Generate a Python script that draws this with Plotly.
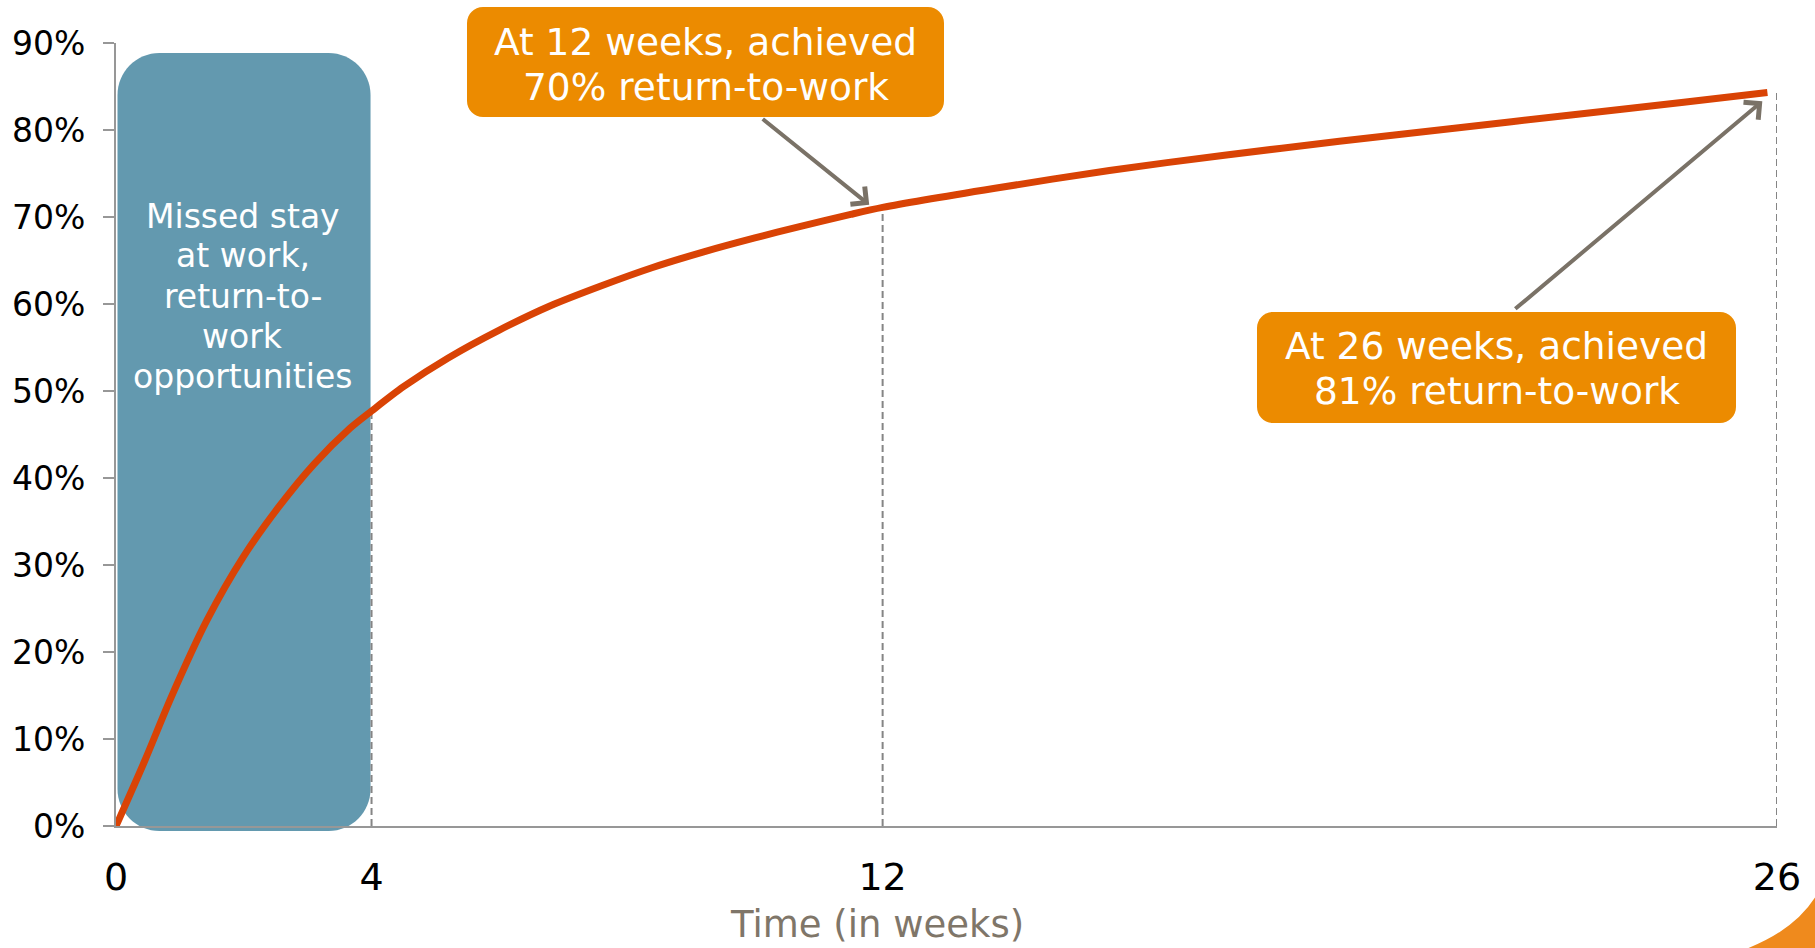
import numpy as np
import plotly.graph_objects as go

# Cumulative return-to-work rate by week since injury
weeks = [0, 0.45, 0.87, 1.42, 1.99, 2.55, 3.1, 3.66, 4.0, 4.5, 5.2, 6.0, 6.8,
         7.6, 8.4, 9.2, 10.0, 10.7, 11.5, 12.0, 13.76, 15.55, 17.35, 19.15,
         20.95, 22.74, 24.54, 25.85]
rtw_rate = [0.0, 0.075, 0.149, 0.236, 0.309, 0.367, 0.416, 0.457, 0.477, 0.505,
            0.538, 0.570, 0.598, 0.621, 0.642, 0.660, 0.676, 0.689, 0.703, 0.711,
            0.733, 0.7535, 0.771, 0.787, 0.802, 0.817, 0.832, 0.843]

x_ticks = [0, 4, 12, 26]
x_ticktext = ["0", "4", "12", "26"]
y_ticks = [0.0, 0.1, 0.2, 0.3, 0.4, 0.5, 0.6, 0.7, 0.8, 0.9]

milestone_weeks = [4, 12, 26]
missed_window = [0, 4]  # weeks with missed stay-at-work opportunities

callout_12 = ["At 12 weeks, achieved", "70% return-to-work"]
callout_26 = ["At 26 weeks, achieved", "81% return-to-work"]
missed_lines = ["Missed stay", "at work,", "return-to-", "work", "opportunities"]
x_title = "Time (in weeks)"

# Colours
LINE_RED = "#D94305"
CALLOUT_ORANGE = "#EC8B00"
BOX_BLUE = "#6399AF"
ARROW_GREY = "#7A7267"
AXIS_GREY = "#979797"
DASH_GREY = "#858585"
TITLE_GREY = "#7F7669"
FONT = "DejaVu Sans"

W, H = 1815, 948
M_L, M_R, M_T, M_B = 116, 38, 43, 122
X_RANGE = [0, 26]
Y_RANGE = [0, 0.9]
PW, PH = W - M_L - M_R, H - M_T - M_B


def to_paper_x(px):
    return (px - M_L) / PW


def to_paper_y(py):
    return (H - M_B - py) / PH


def rounded_rect(x0, y0, x1, y1, r):
    """Rounded rectangle path in paper coordinates from pixel corners."""
    k = 0.5523 * r
    X = to_paper_x
    Y = to_paper_y
    pts = [
        f"M{X(x0 + r)},{Y(y0)}",
        f"L{X(x1 - r)},{Y(y0)}",
        f"C{X(x1 - r + k)},{Y(y0)} {X(x1)},{Y(y0 + r - k)} {X(x1)},{Y(y0 + r)}",
        f"L{X(x1)},{Y(y1 - r)}",
        f"C{X(x1)},{Y(y1 - r + k)} {X(x1 - r + k)},{Y(y1)} {X(x1 - r)},{Y(y1)}",
        f"L{X(x0 + r)},{Y(y1)}",
        f"C{X(x0 + r - k)},{Y(y1)} {X(x0)},{Y(y1 - r + k)} {X(x0)},{Y(y1 - r)}",
        f"L{X(x0)},{Y(y0 + r)}",
        f"C{X(x0)},{Y(y0 + r - k)} {X(x0 + r - k)},{Y(y0)} {X(x0 + r)},{Y(y0)}",
        "Z",
    ]
    return " ".join(pts)


def data_px_x(wk):
    return M_L + (wk - X_RANGE[0]) / (X_RANGE[1] - X_RANGE[0]) * PW


fig = go.Figure()

# Dashed drop lines from the curve down to the time axis
milestone_levels = [float(np.interp(w, weeks, rtw_rate)) for w in milestone_weeks]
for w, lvl in zip(milestone_weeks, milestone_levels):
    fig.add_trace(go.Scatter(
        x=[w, w], y=[0, lvl], mode="lines",
        line=dict(color=DASH_GREY, width=2, dash="7px,4px"),
        hoverinfo="skip", showlegend=False,
    ))

# Return-to-work curve
fig.add_trace(go.Scatter(
    x=weeks, y=rtw_rate, mode="lines",
    line=dict(color=LINE_RED, width=7, shape="spline", smoothing=0.8),
    showlegend=False, cliponaxis=False,
))

shapes = []
# Missed-opportunity band over the first weeks
shapes.append(dict(
    type="path", xref="paper", yref="paper", layer="below",
    path=rounded_rect(data_px_x(missed_window[0]) + 1.5, 53,
                      data_px_x(missed_window[1]) - 1, 831, 42),
    fillcolor=BOX_BLUE, line=dict(width=0),
))
# Callout boxes
shapes.append(dict(
    type="path", xref="paper", yref="paper", layer="above",
    path=rounded_rect(467, 7, 944, 117, 16),
    fillcolor=CALLOUT_ORANGE, line=dict(width=0),
))
shapes.append(dict(
    type="path", xref="paper", yref="paper", layer="above",
    path=rounded_rect(1257, 312, 1736, 423, 16),
    fillcolor=CALLOUT_ORANGE, line=dict(width=0),
))
# Corner accent
shapes.append(dict(
    type="path", xref="paper", yref="paper", layer="above",
    path=(f"M{to_paper_x(1816)},{to_paper_y(896)} "
          f"Q{to_paper_x(1795)},{to_paper_y(930)} {to_paper_x(1746)},{to_paper_y(949)} "
          f"L{to_paper_x(1816)},{to_paper_y(949)} Z"),
    fillcolor="#EF8A1D", line=dict(width=0),
))


def text_line(txt, cx, cy, size, color="white"):
    return dict(text=txt, xref="paper", yref="paper",
                x=to_paper_x(cx), y=to_paper_y(cy),
                xanchor="center", yanchor="middle", showarrow=False,
                align="center", font=dict(family=FONT, size=size, color=color))


annotations = []
for i, line in enumerate(missed_lines):
    annotations.append(text_line(line, 242.5, 216 + 40 * i, 33))
annotations += [
    text_line(callout_12[0], 705.5, 42, 37.5),
    text_line(callout_12[1], 705.5, 87, 37.5),
    text_line(callout_26[0], 1496.5, 346, 37.5),
    text_line(callout_26[1], 1496.5, 391, 37.5),
    # Arrows from callouts to the curve
    dict(text="", x=11.79, y=0.714, xref="x", yref="y",
         ax=10.10, ay=0.814, axref="x", ayref="y",
         showarrow=True, arrowhead=4, arrowsize=1.1, arrowwidth=4,
         arrowcolor=ARROW_GREY, standoff=0),
    dict(text="", x=25.77, y=0.833, xref="x", yref="y",
         ax=21.88, ay=0.593, axref="x", ayref="y",
         showarrow=True, arrowhead=4, arrowsize=1.1, arrowwidth=4,
         arrowcolor=ARROW_GREY, standoff=0),
    # Axis title
    text_line(x_title, 877, 924, 37, TITLE_GREY),
]

fig.update_layout(
    width=W, height=H,
    margin=dict(l=M_L, r=M_R, t=M_T, b=M_B, pad=0),
    paper_bgcolor="white", plot_bgcolor="rgba(0,0,0,0)",
    template="none", showlegend=False,
    font=dict(family=FONT, color="black"),
    shapes=shapes, annotations=annotations,
    xaxis=dict(
        range=X_RANGE, tickvals=x_ticks, ticktext=x_ticktext,
        showline=True, linecolor=AXIS_GREY, linewidth=2, mirror=False,
        ticks="", showgrid=False, zeroline=False,
        tickfont=dict(family=FONT, size=38, color="black"),
        ticklabelstandoff=16, automargin=False,
    ),
    yaxis=dict(
        range=Y_RANGE, tickvals=y_ticks, tickformat=".0%",
        showline=True, linecolor=AXIS_GREY, linewidth=2,
        ticks="outside", ticklen=11, tickwidth=2, tickcolor=AXIS_GREY,
        showgrid=False, zeroline=False,
        tickfont=dict(family=FONT, size=33, color="black"),
        ticklabelstandoff=11, automargin=False,
    ),
)

fig.write_html("out.html")
